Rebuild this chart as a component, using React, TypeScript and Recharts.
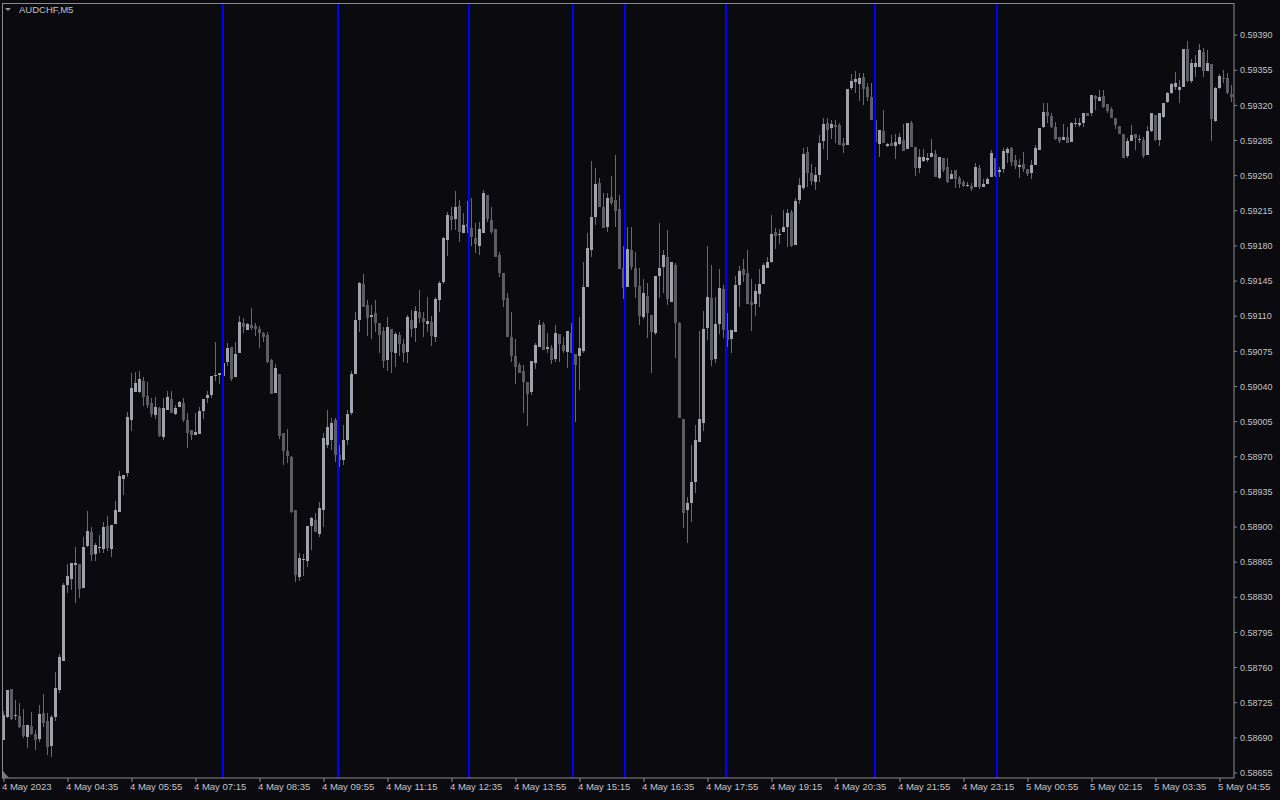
import { ComposedChart, Bar, XAxis, YAxis, ReferenceLine } from 'recharts';

// AUDCHF M5, prices in points (1 point = 0.00001)
const opens = [
  58688, 58711, 58739, 58712, 58712, 58703, 58691, 58702, 58694, 58689,
  58715, 58707, 58682, 58711, 58738, 58767, 58842, 58848, 58862, 58863,
  58839, 58881, 58895, 58873, 58880, 58878, 58901, 58878, 58903, 58915,
  58948, 58954, 59007, 59035, 59035, 59045, 59031, 59024, 59012, 59019,
  58990, 59017, 59028, 59013, 59020, 59024, 59007, 58997, 58992, 58993,
  59016, 59029, 59032, 59050, 59051, 59050, 59064, 59079, 59049, 59073,
  59103, 59096, 59101, 59100, 59097, 59093, 59091, 59066, 59034, 59052,
  58994, 58976, 58970, 58917, 58850, 58868, 58866, 58901, 58907, 58893,
  58917, 58982, 58987, 59007, 58972, 58967, 58987, 59014, 59052, 59106,
  59142, 59121, 59109, 59113, 59103, 59095, 59066, 59097, 59073, 59091,
  59082, 59074, 59106, 59098, 59114, 59108, 59102, 59104, 59089, 59126,
  59144, 59186, 59210, 59207, 59220, 59193, 59202, 59198, 59188, 59180,
  59193, 59231, 59206, 59197, 59171, 59153, 59128, 59089, 59070, 59061,
  59055, 59044, 59035, 59063, 59079, 59102, 59077, 59078, 59067, 59092,
  59081, 59074, 59093, 59072, 59070, 59075, 59139, 59176, 59209, 59243,
  59219, 59199, 59229, 59226, 59217, 59158, 59139, 59176, 59158, 59140,
  59109, 59130, 59111, 59093, 59150, 59159, 59169, 59124, 59161, 59103,
  59008, 58917, 58924, 58945, 58985, 59004, 59098, 59128, 59067, 59102,
  59137, 59096, 59087, 59094, 59141, 59157, 59153, 59124, 59122, 59132,
  59142, 59158, 59164, 59194, 59192, 59194, 59199, 59214, 59181, 59226,
  59238, 59274, 59253, 59244, 59251, 59285, 59302, 59297, 59300, 59300,
  59283, 59281, 59337, 59343, 59341, 59348, 59338, 59328, 59305, 59282,
  59294, 59280, 59283, 59280, 59282, 59286, 59277, 59302, 59279, 59258,
  59265, 59266, 59269, 59272, 59248, 59268, 59259, 59247, 59256, 59248,
  59244, 59241, 59240, 59239, 59258, 59239, 59242, 59249, 59268, 59254,
  59257, 59273, 59278, 59266, 59259, 59262, 59257, 59253, 59261, 59276,
  59298, 59313, 59309, 59298, 59289, 59286, 59289, 59284, 59301, 59300,
  59302, 59312, 59312, 59329, 59324, 59329, 59321, 59316, 59307, 59299,
  59292, 59270, 59285, 59292, 59287, 59286, 59271, 59294, 59310, 59286,
  59308, 59323, 59332, 59338, 59335, 59338, 59376, 59344, 59358, 59358,
  59373, 59354, 59361, 59304, 59337, 59347, 59347, 59331,
];

const highs = [
  58717, 58738, 58739, 58728, 58725, 58719, 58703, 58716, 58698, 58723,
  58734, 58715, 58713, 58756, 58774, 58844, 58863, 58864, 58880, 58863,
  58890, 58916, 58900, 58884, 58892, 58905, 58911, 58902, 58926, 58956,
  58952, 59015, 59053, 59054, 59055, 59049, 59044, 59029, 59030, 59020,
  59029, 59036, 59036, 59022, 59026, 59029, 59014, 58997, 59014, 59020,
  59028, 59036, 59050, 59084, 59053, 59063, 59083, 59079, 59084, 59110,
  59108, 59103, 59118, 59103, 59100, 59094, 59094, 59067, 59062, 59052,
  58994, 58998, 58971, 58917, 58874, 58873, 58901, 58910, 58914, 58925,
  58994, 59017, 59009, 59009, 58982, 59002, 59017, 59055, 59114, 59144,
  59152, 59126, 59121, 59126, 59103, 59099, 59109, 59097, 59094, 59094,
  59087, 59111, 59116, 59120, 59136, 59114, 59129, 59110, 59129, 59145,
  59189, 59214, 59219, 59235, 59226, 59213, 59225, 59228, 59203, 59204,
  59236, 59231, 59219, 59197, 59174, 59153, 59133, 59114, 59087, 59063,
  59061, 59044, 59065, 59083, 59106, 59104, 59093, 59081, 59101, 59092,
  59089, 59095, 59103, 59072, 59109, 59164, 59193, 59265, 59258, 59248,
  59233, 59233, 59250, 59271, 59231, 59180, 59199, 59199, 59174, 59158,
  59147, 59143, 59111, 59150, 59203, 59176, 59196, 59164, 59163, 59104,
  59008, 58930, 58982, 59002, 59095, 59115, 59180, 59161, 59129, 59157,
  59141, 59113, 59096, 59150, 59160, 59167, 59176, 59147, 59142, 59157,
  59163, 59169, 59211, 59198, 59197, 59216, 59217, 59216, 59228, 59248,
  59278, 59279, 59262, 59259, 59291, 59307, 59307, 59305, 59305, 59302,
  59288, 59336, 59351, 59354, 59352, 59352, 59342, 59342, 59305, 59295,
  59315, 59283, 59291, 59292, 59293, 59301, 59302, 59304, 59279, 59277,
  59277, 59273, 59287, 59276, 59269, 59268, 59268, 59256, 59256, 59250,
  59246, 59244, 59243, 59263, 59261, 59247, 59249, 59276, 59268, 59259,
  59278, 59279, 59279, 59271, 59267, 59274, 59257, 59266, 59281, 59297,
  59322, 59322, 59312, 59303, 59289, 59301, 59298, 59303, 59307, 59307,
  59312, 59312, 59330, 59330, 59335, 59335, 59321, 59318, 59307, 59299,
  59292, 59288, 59300, 59292, 59291, 59289, 59299, 59312, 59310, 59312,
  59322, 59333, 59342, 59353, 59345, 59376, 59384, 59366, 59370, 59381,
  59377, 59375, 59361, 59338, 59351, 59355, 59352, 59340,
];

const lows = [
  58688, 58710, 58708, 58708, 58700, 58690, 58680, 58693, 58678, 58686,
  58701, 58673, 58671, 58707, 58735, 58766, 58834, 58837, 58824, 58829,
  58839, 58880, 58866, 58866, 58874, 58874, 58876, 58870, 58903, 58915,
  58932, 58950, 58995, 59034, 59033, 59020, 59018, 59010, 59008, 58990,
  58987, 59017, 59014, 59012, 59020, 59005, 58979, 58987, 58992, 58993,
  59008, 59024, 59028, 59045, 59042, 59050, 59060, 59045, 59049, 59073,
  59093, 59096, 59096, 59090, 59078, 59084, 59063, 59032, 59034, 58987,
  58962, 58964, 58914, 58845, 58846, 58851, 58860, 58877, 58895, 58890,
  58900, 58979, 58977, 58965, 58960, 58962, 58982, 59011, 59052, 59094,
  59119, 59090, 59087, 59094, 59073, 59058, 59055, 59053, 59059, 59070,
  59064, 59063, 59089, 59084, 59103, 59089, 59094, 59080, 59084, 59114,
  59142, 59170, 59196, 59196, 59184, 59193, 59193, 59180, 59173, 59171,
  59193, 59204, 59192, 59169, 59149, 59119, 59089, 59064, 59042, 59053,
  59013, 59000, 59031, 59057, 59079, 59076, 59073, 59062, 59064, 59064,
  59073, 59058, 59073, 59004, 59036, 59073, 59139, 59169, 59201, 59219,
  59198, 59194, 59221, 59199, 59157, 59127, 59139, 59156, 59128, 59101,
  59107, 59088, 59053, 59091, 59128, 59133, 59121, 59124, 59068, 59009,
  58899, 58884, 58905, 58934, 58985, 58995, 59086, 59060, 59063, 59092,
  59088, 59079, 59073, 59094, 59119, 59144, 59122, 59095, 59110, 59119,
  59142, 59158, 59163, 59177, 59182, 59194, 59179, 59179, 59181, 59222,
  59236, 59239, 59241, 59236, 59244, 59276, 59265, 59286, 59282, 59281,
  59273, 59281, 59335, 59332, 59324, 59320, 59324, 59305, 59284, 59268,
  59283, 59279, 59280, 59267, 59281, 59275, 59276, 59279, 59250, 59253,
  59264, 59264, 59269, 59249, 59247, 59254, 59243, 59247, 59238, 59238,
  59239, 59239, 59235, 59239, 59237, 59239, 59242, 59249, 59249, 59249,
  59253, 59263, 59260, 59257, 59248, 59254, 59250, 59247, 59261, 59276,
  59297, 59302, 59297, 59285, 59283, 59285, 59283, 59283, 59298, 59298,
  59298, 59309, 59309, 59315, 59324, 59317, 59312, 59307, 59296, 59291,
  59268, 59268, 59285, 59276, 59283, 59268, 59270, 59293, 59284, 59279,
  59307, 59322, 59331, 59335, 59322, 59338, 59343, 59342, 59348, 59358,
  59348, 59354, 59284, 59303, 59336, 59342, 59331, 59323,
];

const closes = [
  58713, 58738, 58709, 58713, 58701, 58692, 58703, 58694, 58688, 58714,
  58705, 58681, 58711, 58740, 58771, 58842, 58851, 58864, 58864, 58838,
  58880, 58896, 58872, 58882, 58880, 58900, 58879, 58902, 58917, 58951,
  58952, 59010, 59038, 59043, 59047, 59030, 59022, 59013, 59020, 58991,
  59019, 59030, 59014, 59019, 59025, 59007, 58994, 58992, 58995, 59016,
  59028, 59032, 59050, 59051, 59053, 59063, 59078, 59047, 59072, 59104,
  59099, 59102, 59098, 59097, 59093, 59089, 59064, 59033, 59058, 58991,
  58976, 58971, 58915, 58852, 58869, 58868, 58901, 58909, 58895, 58919,
  58989, 59000, 59004, 58972, 58967, 58987, 59013, 59052, 59106, 59143,
  59119, 59108, 59111, 59103, 59091, 59065, 59099, 59074, 59092, 59082,
  59073, 59109, 59097, 59115, 59108, 59104, 59105, 59090, 59127, 59143,
  59188, 59211, 59206, 59219, 59194, 59201, 59199, 59189, 59182, 59197,
  59233, 59207, 59194, 59169, 59153, 59126, 59089, 59070, 59059, 59053,
  59044, 59033, 59065, 59081, 59101, 59076, 59079, 59066, 59093, 59082,
  59075, 59095, 59073, 59061, 59078, 59139, 59178, 59209, 59242, 59219,
  59198, 59228, 59223, 59215, 59157, 59138, 59177, 59159, 59139, 59110,
  59133, 59113, 59094, 59150, 59158, 59171, 59127, 59164, 59103, 59009,
  58914, 58924, 58945, 58987, 59008, 59097, 59129, 59066, 59102, 59138,
  59096, 59086, 59096, 59141, 59155, 59151, 59122, 59121, 59135, 59142,
  59161, 59164, 59192, 59190, 59192, 59199, 59213, 59180, 59225, 59241,
  59272, 59253, 59245, 59251, 59283, 59301, 59295, 59301, 59298, 59281,
  59280, 59336, 59344, 59346, 59347, 59336, 59328, 59305, 59284, 59295,
  59283, 59282, 59280, 59284, 59289, 59275, 59302, 59279, 59258, 59269,
  59269, 59268, 59273, 59249, 59269, 59256, 59244, 59252, 59247, 59242,
  59240, 59241, 59237, 59259, 59239, 59242, 59247, 59273, 59250, 59256,
  59275, 59277, 59264, 59260, 59261, 59257, 59252, 59261, 59278, 59297,
  59313, 59309, 59298, 59287, 59285, 59289, 59283, 59302, 59302, 59302,
  59312, 59309, 59330, 59326, 59328, 59318, 59314, 59307, 59300, 59292,
  59268, 59285, 59291, 59288, 59287, 59270, 59294, 59312, 59286, 59312,
  59322, 59332, 59341, 59342, 59338, 59376, 59344, 59362, 59362, 59375,
  59354, 59362, 59306, 59337, 59349, 59346, 59332, 59328,
];

// time axis: one label every 16 bars
const tickBars = [0, 16, 32, 48, 64, 80, 96, 112, 128, 144, 160, 176, 192, 208, 224, 240, 256, 272, 288, 304];
const tickLabels = [
  '4 May 2023', '4 May 04:35', '4 May 05:55', '4 May 07:15', '4 May 08:35',
  '4 May 09:55', '4 May 11:15', '4 May 12:35', '4 May 13:55', '4 May 15:15',
  '4 May 16:35', '4 May 17:55', '4 May 19:15', '4 May 20:35', '4 May 21:55',
  '4 May 23:15', '5 May 00:55', '5 May 02:15', '5 May 03:35', '5 May 04:55',
];

const priceTicks = [
  58655, 58690, 58725, 58760, 58795, 58830, 58865, 58900, 58935, 58970, 59005,
  59040, 59075, 59110, 59145, 59180, 59215, 59250, 59285, 59320, 59355, 59390,
];

// vertical marker lines, in bar positions
const markerBars = [54.75, 83.5, 116.25, 142.25, 155.25, 180.5, 217.75, 248.25];

const BG = '#0a0a0f';
const FRAME = '#8c8c8c';
const TEXT = '#c4c4c8';
const BULL = '#a2a2ac';
const BEAR = '#5c5c62';
const WICK = '#6a6a70';

const data = opens.map((o, i) => ({
  i,
  open: o,
  high: highs[i],
  low: lows[i],
  close: closes[i],
}));

function Candle(props: any) {
  const { x, y, width, height, payload } = props;
  if (!payload) return null;
  const { open, high, low, close } = payload;
  const top = Math.min(y, y + height);
  const h = Math.abs(height);
  const k = high === low ? 0 : h / (high - low);
  const py = (v: number) => top + (high - v) * k;
  const cx = x + width / 2;
  const left = Math.floor(cx - 1.5);
  const up = close >= open;
  const bTop = Math.round(py(Math.max(open, close)));
  const bBot = Math.round(py(Math.min(open, close)));
  return (
    <g>
      <rect x={left + 1} y={Math.round(top)} width={1} height={Math.max(1, Math.round(h))} fill={WICK} />
      <rect x={left} y={bTop} width={3} height={Math.max(1, bBot - bTop)} fill={up ? BULL : BEAR} />
    </g>
  );
}

export default function App() {
  return (
    <div style={{ position: 'absolute', left: 0, top: 0, width: 1280, height: 800, background: BG, overflow: 'hidden' }}>
      <ComposedChart
        width={1280}
        height={800}
        data={data}
        margin={{ top: 3, right: 0, bottom: 0, left: 2 }}
        barCategoryGap={0}
      >
        <XAxis
          dataKey="i"
          type="category"
          height={22}
          ticks={tickBars}
          interval={0}
          tickFormatter={(v) => tickLabels[tickBars.indexOf(v)] ?? ''}
          tick={{ fill: TEXT, fontSize: 9.5, fontFamily: 'Liberation Sans, Arial, sans-serif', textAnchor: 'start', dx: -2 }}
          tickSize={4}
          tickMargin={1}
          stroke={FRAME}
          tickLine={{ stroke: FRAME }}
        />
        <XAxis xAxisId="t" dataKey="i" type="number" domain={[-0.5, 307.5]} allowDataOverflow hide />
        <YAxis
          orientation="right"
          width={46}
          domain={[58650, 59422]}
          allowDataOverflow
          ticks={priceTicks}
          interval={0}
          tickFormatter={(v) => (v / 100000).toFixed(5)}
          tick={{ fill: TEXT, fontSize: 9, fontFamily: 'Liberation Sans, Arial, sans-serif' }}
          tickSize={3}
          tickMargin={3}
          stroke={FRAME}
          tickLine={{ stroke: FRAME }}
        />
        {markerBars.map((m) => (
          <ReferenceLine key={m} xAxisId="t" x={m} stroke="#0000ff" strokeWidth={2} ifOverflow="visible" />
        ))}
        <Bar dataKey={(d: any) => [d.low, d.high]} shape={Candle} isAnimationActive={false} />
      </ComposedChart>
      <div
        style={{
          position: 'absolute', left: 2, top: 3, width: 1232, height: 775,
          borderTop: `1px solid ${FRAME}`, borderLeft: `1px solid ${FRAME}`,
          boxSizing: 'border-box', pointerEvents: 'none',
        }}
      />
      <svg style={{ position: 'absolute', left: 0, top: 0, pointerEvents: 'none' }} width={20} height={20}>
        <polygon points="5,8 11,8 8,11" fill="#9a9a9a" />
      </svg>
      <svg style={{ position: 'absolute', left: 0, top: 768, pointerEvents: 'none' }} width={10} height={10}>
        <polygon points="3,3 3,10 9,10" fill="#7a7a7a" />
      </svg>
      <div
        style={{
          position: 'absolute', left: 19, top: 4, fontSize: 9.5, color: TEXT,
          fontFamily: 'Liberation Sans, Arial, sans-serif', lineHeight: '12px',
        }}
      >
        AUDCHF,M5
      </div>
    </div>
  );
}
